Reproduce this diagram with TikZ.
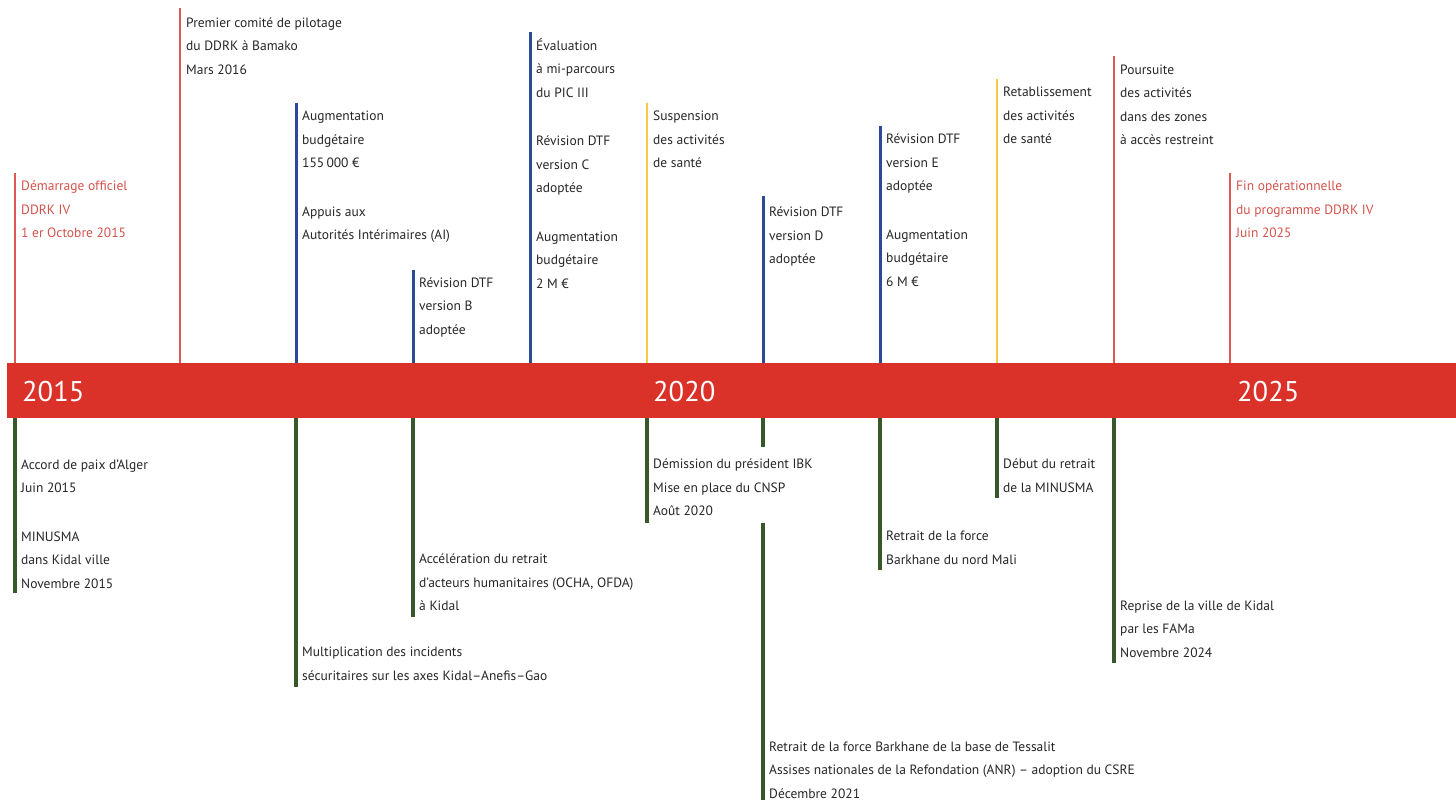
\documentclass[tikz,border=0pt]{standalone}
\usepackage{fontspec}
\setmainfont{PT Sans}
\usepackage{tikz}

\definecolor{bandred}{RGB}{218,49,41}
\definecolor{linered}{RGB}{224,88,82}
\definecolor{txtred}{RGB}{212,82,76}
\definecolor{lineblue}{RGB}{44,74,150}
\definecolor{lineyellow}{RGB}{245,202,72}
\definecolor{linegreen}{RGB}{55,88,40}
\definecolor{txtgray}{RGB}{38,38,38}

\begin{document}
\begin{tikzpicture}[x=1pt,y=-1pt,
  band/.style={fill=bandred, anchor=north west, inner sep=0pt, minimum width=1449pt, minimum height=55pt},
  year/.style={anchor=base west, inner sep=0pt, text=white, font=\fontsize{28.5}{34}\selectfont},
  evt/.style={anchor=north west, inner sep=0pt, align=left, text=txtgray, font=\fontsize{13.5}{23.5}\selectfont},
  redline/.style={draw=linered, line width=2pt},
  blueline/.style={draw=lineblue, line width=3pt},
  yellowline/.style={draw=lineyellow, line width=2pt},
  greenline/.style={draw=linegreen, line width=3.3pt}]
\useasboundingbox (0,0) rectangle (1456,800);

\node[band] (band) at (7,363) {};

\node[year] (y15) at (22,401.5) {2015};
\node[year] (y20) at (653,401.5) {2020};
\node[year] (y25) at (1237,401.5) {2025};

% au-dessus de la frise
\coordinate (t1) at (15,173);
\coordinate (t2) at (180,8);
\coordinate (t3) at (296,103);
\coordinate (t4) at (413,270);
\coordinate (t5) at (530,32);
\coordinate (t6) at (647,103);
\coordinate (t7) at (763,196);
\coordinate (t8) at (880,126);
\coordinate (t9) at (997,79);
\coordinate (t10) at (1114,56);
\coordinate (t11) at (1230,173);

\draw[redline] (t1) -- (t1 |- band.north);
\draw[redline] (t2) -- (t2 |- band.north);
\draw[blueline] (t3) -- (t3 |- band.north);
\draw[blueline] (t4) -- (t4 |- band.north);
\draw[blueline] (t5) -- (t5 |- band.north);
\draw[yellowline] (t6) -- (t6 |- band.north);
\draw[blueline] (t7) -- (t7 |- band.north);
\draw[blueline] (t8) -- (t8 |- band.north);
\draw[yellowline] (t9) -- (t9 |- band.north);
\draw[redline] (t10) -- (t10 |- band.north);
\draw[redline] (t11) -- (t11 |- band.north);

\node[evt, text=txtred] (e1) at (21,174) {\strut Démarrage officiel\\DDRK IV\\1 er Octobre 2015};
\node[evt] (e2) at (186,10.5) {\strut Premier comité de pilotage\\du DDRK à Bamako\\Mars 2016};
\node[evt] (e3) at (302,104) {\strut Augmentation\\budgétaire\\155\,000 €\\[25pt]Appuis aux\\Autorités Intérimaires (AI)};
\node[evt] (e4) at (419,270.5) {\strut Révision DTF\\version B\\adoptée};
\node[evt] (e5) at (536,33.5) {\strut Évaluation\\à mi-parcours\\du PIC III\\[25pt]Révision DTF\\version C\\adoptée\\[25pt]Augmentation\\budgétaire\\2 M €};
\node[evt] (e6) at (653,104) {\strut Suspension\\des activités\\de santé};
\node[evt] (e7) at (769,200) {\strut Révision DTF\\version D\\adoptée};
\node[evt] (e8) at (886,127) {\strut Révision DTF\\version E\\adoptée\\[25pt]Augmentation\\budgétaire\\6 M €};
\node[evt] (e9) at (1003,80) {\strut Retablissement\\des activités\\de santé};
\node[evt] (e10) at (1120,57.5) {\strut Poursuite\\des activités\\dans des zones\\à accès restreint};
\node[evt, text=txtred] (e11) at (1236,174) {\strut Fin opérationnelle\\du programme DDRK IV\\Juin 2025};

% au-dessous de la frise
\coordinate (b1) at (15,593);
\coordinate (b2) at (296,687);
\coordinate (b3) at (413,617);
\coordinate (b4) at (647,523);
\coordinate (b5) at (763,447);
\coordinate (b5a) at (763,523);
\coordinate (b5b) at (763,800);
\coordinate (b6) at (880,570);
\coordinate (b7) at (997,498);
\coordinate (b8) at (1114,663);

\draw[greenline] (b1 |- band.south) -- (b1);
\draw[greenline] (b2 |- band.south) -- (b2);
\draw[greenline] (b3 |- band.south) -- (b3);
\draw[greenline] (b4 |- band.south) -- (b4);
\draw[greenline] (b5 |- band.south) -- (b5);
\draw[greenline] (b5a) -- (b5b);
\draw[greenline] (b6 |- band.south) -- (b6);
\draw[greenline] (b7 |- band.south) -- (b7);
\draw[greenline] (b8 |- band.south) -- (b8);

\node[evt] (f1) at (21,452.5) {\strut Accord de paix d’Alger\\Juin 2015\\[25pt]MINUSMA\\dans Kidal ville\\Novembre 2015};
\node[evt] (f2) at (302,640) {\strut Multiplication des incidents\\sécuritaires sur les axes Kidal–Anefis–Gao};
\node[evt] (f3) at (419,547) {\strut Accélération du retrait\\d’acteurs humanitaires (OCHA, OFDA)\\à Kidal};
\node[evt] (f4) at (653,452) {\strut Démission du président IBK\\Mise en place du CNSP\\Août 2020};
\node[evt] (f5) at (769,734.5) {\strut Retrait de la force Barkhane de la base de Tessalit\\Assises nationales de la Refondation (ANR) – adoption du CSRE\\Décembre 2021};
\node[evt] (f6) at (886,524) {\strut Retrait de la force\\Barkhane du nord Mali};
\node[evt] (f7) at (1003,452) {\strut Début du retrait\\de la MINUSMA};
\node[evt] (f8) at (1120,593.5) {\strut Reprise de la ville de Kidal\\par les FAMa\\Novembre 2024};

\end{tikzpicture}
\end{document}
